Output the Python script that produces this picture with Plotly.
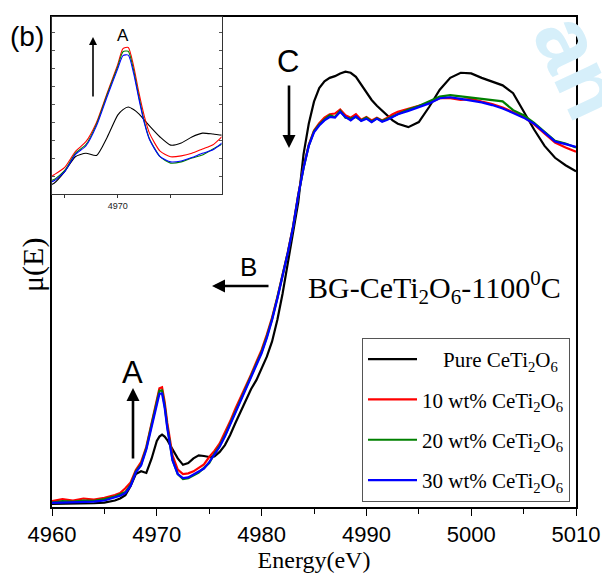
import plotly.graph_objects as go

# ---------------- data ----------------
energy = [4960, 4961, 4962, 4963, 4964, 4965, 4966, 4966.5, 4967, 4967.5, 4968, 4968.5,
          4969, 4969.5, 4970, 4970.25, 4970.5, 4970.75, 4971, 4971.25, 4971.5,
          4972, 4972.5, 4973, 4973.5, 4974, 4974.5, 4975, 4975.5, 4976, 4976.5, 4977,
          4977.5, 4978, 4978.5, 4979, 4979.5, 4980, 4980.5, 4981, 4981.5, 4982, 4982.5,
          4983, 4983.5, 4984, 4984.5, 4985, 4985.5, 4986, 4986.5, 4987, 4987.5, 4988,
          4988.5, 4989, 4989.5, 4990, 4990.5, 4991, 4991.5, 4992, 4992.5, 4993,
          4994, 4995, 4996, 4997, 4998, 4999, 5000, 5001, 5002, 5003, 5004, 5005,
          5006, 5007, 5008, 5009, 5010]

pure = [0.012, 0.012, 0.013, 0.013, 0.014, 0.016, 0.022, 0.028, 0.038, 0.065, 0.100, 0.108,
        0.103, 0.145, 0.197, 0.210, 0.216, 0.210, 0.200, 0.186, 0.172,
        0.146, 0.127, 0.132, 0.146, 0.155, 0.153, 0.150, 0.152, 0.165, 0.185, 0.215,
        0.250, 0.285, 0.315, 0.350, 0.376, 0.410, 0.445, 0.490, 0.553, 0.630, 0.720,
        0.800, 0.900, 1.040, 1.130, 1.195, 1.235, 1.255, 1.265, 1.270, 1.278, 1.283,
        1.280, 1.268, 1.245, 1.220, 1.200, 1.183, 1.168, 1.153, 1.140, 1.130,
        1.120, 1.135, 1.180, 1.230, 1.265, 1.280, 1.278, 1.265, 1.255, 1.243, 1.220, 1.165,
        1.113, 1.065, 1.030, 1.008, 0.990]

wt10 = [0.020, 0.026, 0.022, 0.028, 0.025, 0.030, 0.038, 0.044, 0.058, 0.075, 0.112, 0.135,
        0.180, 0.248, 0.315, 0.352, 0.355, 0.312, 0.250, 0.196, 0.155,
        0.113, 0.100, 0.102, 0.108, 0.118, 0.128, 0.150, 0.168, 0.190, 0.222, 0.255,
        0.292, 0.325, 0.362, 0.393, 0.430, 0.465, 0.510, 0.560, 0.620, 0.685, 0.752,
        0.828, 0.922, 1.002, 1.068, 1.110, 1.132, 1.148, 1.158, 1.160, 1.172, 1.155,
        1.148, 1.158, 1.142, 1.150, 1.140, 1.148, 1.140, 1.148, 1.158, 1.165,
        1.174, 1.183, 1.192, 1.205, 1.205, 1.200, 1.203, 1.195, 1.188, 1.178, 1.165, 1.150,
        1.128, 1.100, 1.075, 1.060, 1.048]

wt20 = [0.016, 0.020, 0.019, 0.022, 0.021, 0.026, 0.034, 0.040, 0.047, 0.068, 0.108, 0.128,
        0.176, 0.245, 0.310, 0.345, 0.346, 0.302, 0.240, 0.183, 0.142,
        0.100, 0.085, 0.088, 0.097, 0.104, 0.118, 0.132, 0.160, 0.183, 0.213, 0.248,
        0.284, 0.318, 0.354, 0.388, 0.424, 0.459, 0.504, 0.556, 0.618, 0.682, 0.751,
        0.826, 0.920, 1.000, 1.066, 1.108, 1.128, 1.142, 1.155, 1.150, 1.168, 1.148,
        1.145, 1.150, 1.140, 1.148, 1.136, 1.146, 1.138, 1.145, 1.152, 1.160,
        1.172, 1.182, 1.195, 1.210, 1.214, 1.210, 1.207, 1.203, 1.200, 1.196, 1.170, 1.155,
        1.133, 1.105, 1.080, 1.072, 1.060]

wt30 = [0.015, 0.016, 0.016, 0.018, 0.019, 0.022, 0.030, 0.036, 0.044, 0.065, 0.105, 0.125,
        0.172, 0.240, 0.305, 0.336, 0.337, 0.295, 0.235, 0.180, 0.140,
        0.100, 0.088, 0.090, 0.098, 0.108, 0.116, 0.135, 0.158, 0.180, 0.210, 0.245,
        0.280, 0.315, 0.350, 0.385, 0.420, 0.455, 0.500, 0.553, 0.615, 0.680, 0.750,
        0.825, 0.920, 1.000, 1.065, 1.105, 1.125, 1.140, 1.150, 1.148, 1.165, 1.150,
        1.140, 1.152, 1.138, 1.145, 1.135, 1.145, 1.136, 1.142, 1.150, 1.158,
        1.168, 1.178, 1.190, 1.205, 1.208, 1.203, 1.198, 1.193, 1.185, 1.175, 1.162, 1.148,
        1.130, 1.105, 1.078, 1.070, 1.062]

series_names = ["\u00a0\u00a0\u00a0\u00a0Pure CeTi<sub>2</sub>O<sub>6</sub>",
                "10 wt% CeTi<sub>2</sub>O<sub>6</sub>",
                "20 wt% CeTi<sub>2</sub>O<sub>6</sub>",
                "30 wt% CeTi<sub>2</sub>O<sub>6</sub>"]
series_values = [pure, wt10, wt20, wt30]
series_colors = ["#000000", "#ff0000", "#008000", "#0000ff"]

main_xticks = [4960, 4970, 4980, 4990, 5000, 5010]
inset_xticks = [4970]

# ---------------- layout geometry (pixels) ----------------
W, H = 602, 577
L, R, T, B = 52, 576, 17, 507
pw, ph = R - L, B - T


def px(xp):
    return (xp - L) / pw


def py(yp):
    return (B - yp) / ph


serif = "Liberation Serif, Times New Roman, serif"
sans = "Liberation Sans, Arial, sans-serif"
narrow = "Liberation Sans Narrow, Liberation Sans, Arial, sans-serif"

fig = go.Figure()

for i, (name, vals, col) in enumerate(zip(series_names, series_values, series_colors)):
    fig.add_trace(go.Scatter(x=energy, y=vals, mode="lines", name=name,
                             line=dict(color=col, width=2.2), legendgroup=f"g{i}",
                             xaxis="x", yaxis="y"))
for i, (name, vals, col) in enumerate(zip(series_names, series_values, series_colors)):
    fig.add_trace(go.Scatter(x=energy, y=vals, mode="lines", name=name,
                             line=dict(color=col, width=1.1, shape="spline", smoothing=0.6),
                             showlegend=False, xaxis="x2", yaxis="y2"))

inset_x0 = px(52)
inset_x1 = px(221.5)
inset_y0 = py(194)

fig.update_layout(
    width=W, height=H,
    margin=dict(l=L, r=W - R, t=T, b=H - B, autoexpand=False),
    paper_bgcolor="white", plot_bgcolor="white",
    showlegend=True,
    xaxis=dict(domain=[0, 1], range=[4960, 5010], tickvals=main_xticks,
               ticks="outside", ticklen=7, tickwidth=1.2, tickcolor="black",
               minor=dict(dtick=5, tick0=4960, ticks="outside", ticklen=5, tickcolor="black", tickwidth=1.2),
               showline=True, linecolor="black", linewidth=1.5, mirror=True,
               showgrid=False, zeroline=False,
               tickfont=dict(family=narrow, size=22, color="black"),
               title=dict(text="Energy(eV)", font=dict(family=serif, size=24, color="black"), standoff=0)),
    yaxis=dict(domain=[0, 1], range=[0.003, 1.444], showticklabels=False, ticks="",
               showline=True, linecolor="black", linewidth=1.5, mirror=True,
               showgrid=False, zeroline=False),
    xaxis2=dict(domain=[inset_x0, inset_x1], anchor="y2", range=[4966.9, 4974.9],
                tickvals=inset_xticks,
                ticks="outside", ticklen=3, tickcolor="#333", tickwidth=1,
                minor=dict(dtick=2.5, tick0=4967.5, ticks="outside", ticklen=3, tickcolor="#333", tickwidth=1),
                showline=True, linecolor="#333", linewidth=1, mirror=True,
                showgrid=False, zeroline=False,
                tickfont=dict(family=sans, size=9, color="#222")),
    yaxis2=dict(domain=[inset_y0, 1], anchor="x2", range=[0.013, 0.426],
                showticklabels=False, ticks="inside", ticklen=3, tickcolor="#555", tickwidth=1,
                tick0=0.221, dtick=0.042,
                showline=True, linecolor="#333", linewidth=1, mirror="allticks",
                showgrid=False, zeroline=False),
    legend=dict(x=px(362), y=py(338), xanchor="left", yanchor="top",
                bordercolor="#555", borderwidth=1, bgcolor="white",
                font=dict(family=serif, size=21, color="black"),
                traceorder="grouped", tracegroupgap=10, itemwidth=49,
                entrywidth=192),
)


def label(x, y, text, size, family=sans, angle=0, color="black"):
    return dict(x=px(x), y=py(y), xref="paper", yref="paper", text=text, showarrow=False,
                xanchor="center", yanchor="middle", textangle=angle,
                font=dict(family=family, size=size, color=color))


def arrow(x, y, ax, ay, width):
    return dict(x=px(x), y=py(y), xref="paper", yref="paper", ax=ax, ay=ay, text="",
                showarrow=True, arrowhead=2, arrowsize=1, arrowwidth=width, arrowcolor="black")


ann = [
    label(580, 66, "<b>an</b>", 88, sans, 65, "#d6effa"),
    label(27, 36, "(b)", 28),
    label(33, 265, "\u03bc(E)", 30, serif, -90),
    label(434, 287, "BG-CeTi<sub>2</sub>O<sub>6</sub>-1100<sup>0</sup>C", 30, serif),
    label(132, 372, "A", 31),
    label(248, 267, "B", 26),
    label(288, 62, "C", 31),
    label(123, 35, "A", 17),
    arrow(133, 388, 0, 72, 2.6),
    arrow(289, 148, 0, -64, 2.6),
    arrow(212, 286, 58, 0, 2.6),
    arrow(93, 37, 0, 61, 1.6),
]

fig.update_layout(annotations=ann)

fig.write_html("out.html", config={"displayModeBar": False},
               post_script="document.body.style.margin='0';document.body.style.overflow='hidden';")
